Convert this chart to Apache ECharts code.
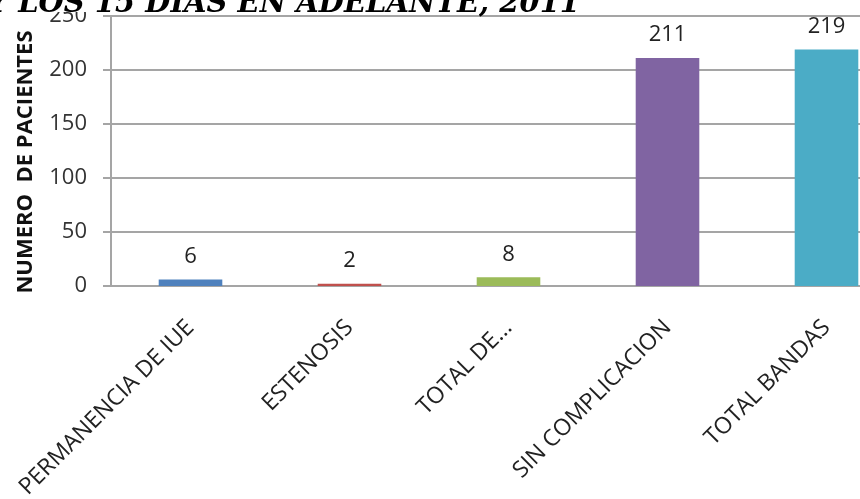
<!DOCTYPE html>
<html>
<head>
<meta charset="utf-8">
<style>
  html, body { margin: 0; padding: 0; background: #fff; }
  #chart { width: 860px; height: 499px; }
</style>
<script src="https://cdn.jsdelivr.net/npm/echarts@6/dist/echarts.min.js"></script>
</head>
<body>
<div id="chart"></div>
<script>
// Patients by outcome category
const categories = ['PERMANENCIA DE IUE', 'ESTENOSIS', 'TOTAL DE...', 'SIN COMPLICACION', 'TOTAL BANDAS'];
const patients = [6, 2, 8, 211, 219];
const barColors = ['#4f81bd', '#c0504d', '#9bbb59', '#8064a2', '#4bacc6'];
const yTicks = { min: 0, max: 250, interval: 50 };
const titleText = 'Y LOS 15 DIAS EN ADELANTE, 2011';
const yAxisName = 'NUMERO  DE PACIENTES';

const labelFont = '"Open Sans", "Liberation Sans", sans-serif';
const gridGray = '#a5a5a5';

const chart = echarts.init(document.getElementById('chart'), null, { renderer: 'canvas' });

chart.setOption({
  animation: false,
  backgroundColor: '#ffffff',
  graphic: [
    {
      // title strip across the top edge
      type: 'rect',
      z: 99,
      shape: { x: 0, y: 0, width: 860, height: 12 },
      style: { fill: '#ffffff' }
    },
    {
      type: 'text',
      z: 100,
      style: {
        x: 580,
        y: -10,
        align: 'right',
        verticalAlign: 'top',
        text: titleText,
        font: 'italic bold 29px "DejaVu Serif", serif',
        fill: '#000000'
      }
    }
  ],
  grid: { left: 111, top: 16, width: 795, height: 270, containLabel: false, outerBoundsMode: 'none' },
  xAxis: {
    type: 'category',
    data: categories,
    axisLine: { show: true, lineStyle: { color: gridGray, width: 2 } },
    axisTick: { show: false },
    axisLabel: {
      rotate: 45,
      interval: 0,
      margin: 38,
      fontFamily: labelFont,
      fontSize: 23,
      color: '#222222'
    }
  },
  yAxis: {
    type: 'value',
    min: yTicks.min,
    max: yTicks.max,
    interval: yTicks.interval,
    name: yAxisName,
    nameLocation: 'middle',
    nameGap: 74,
    nameTextStyle: {
      fontFamily: labelFont,
      fontWeight: 'bold',
      fontSize: 22,
      color: '#111111',
      padding: [0, 22, 0, 0]
    },
    axisLine: { show: true, lineStyle: { color: gridGray, width: 2 } },
    axisTick: { show: true, length: 8, lineStyle: { color: gridGray, width: 2 } },
    axisLabel: {
      margin: 24,
      fontFamily: labelFont,
      fontSize: 22,
      color: '#333333'
    },
    splitLine: { show: true, lineStyle: { color: gridGray, width: 2 } }
  },
  series: [{
    type: 'bar',
    barWidth: '40%',
    data: patients.map((v, i) => ({ value: v, itemStyle: { color: barColors[i] } })),
    label: {
      show: true,
      position: 'top',
      distance: 12,
      fontFamily: labelFont,
      fontSize: 22,
      color: '#222222'
    }
  }]
});
</script>
</body>
</html>
